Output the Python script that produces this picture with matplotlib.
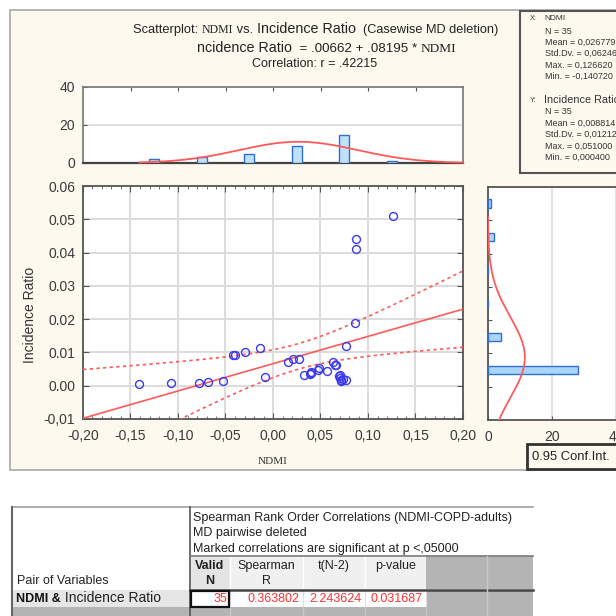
import numpy as np
import matplotlib
matplotlib.use("Agg")
import matplotlib.pyplot as plt
from matplotlib.patches import Rectangle

plt.rcParams['font.family'] = ['Liberation Sans', 'DejaVu Sans']

# ---------------- data ----------------
ndmi = [-0.1407, -0.1077, -0.0776, -0.0684, -0.0523, -0.0425, -0.0397, -0.0290, -0.0137, -0.0084,
        0.0155, 0.0210, 0.0278, 0.0322, 0.0385, 0.0395, 0.0400, 0.0477, 0.0484,
        0.0565, 0.0630, 0.0652, 0.0660, 0.0697, 0.0705, 0.0708, 0.0712, 0.0720, 0.0735,
        0.0768, 0.0764, 0.0866, 0.0875, 0.0877, 0.1266]
incidence = [0.0004, 0.0008, 0.0008, 0.0010, 0.0013, 0.0092, 0.0092, 0.0102, 0.0112, 0.0025,
             0.0070, 0.0081, 0.0081, 0.0033, 0.0035, 0.0040, 0.0037, 0.0047, 0.0052,
             0.0045, 0.0071, 0.0063, 0.0061, 0.0028, 0.0031, 0.0022, 0.0017, 0.0015, 0.0019,
             0.0017, 0.0118, 0.0187, 0.0441, 0.0410, 0.0510]

fit_intercept = 0.00662
fit_slope = 0.08195
corr_r = 0.42215
conf_level = 0.95
t_crit = 2.0345  # t(0.975, 33)

stat_names = ["N", "Mean", "Std.Dv.", "Max.", "Min."]
x_stats = [35, 0.026779, 0.062466, 0.126620, -0.140720]
y_stats = [35, 0.008814, 0.012126, 0.051000, 0.000400]

ndmi_bin_centers = [-0.125, -0.075, -0.025, 0.025, 0.075, 0.125]
ndmi_bin_counts = [2, 3, 5, 9, 15, 1]
ir_bin_centers = [0.005, 0.015, 0.025, 0.035, 0.045, 0.055]
ir_bin_counts = [28, 4, 0, 0, 2, 1]

x_ticks = [-0.20, -0.15, -0.10, -0.05, 0.00, 0.05, 0.10, 0.15, 0.20]
x_ticklabels = ["-0,20", "-0,15", "-0,10", "-0,05", "0,00", "0,05", "0,10", "0,15", "0,20"]
y_ticks = [-0.01, 0.00, 0.01, 0.02, 0.03, 0.04, 0.05, 0.06]
y_ticklabels = ["-0,01", "0.00", "0.01", "0.02", "0.03", "0.04", "0.05", "0.06"]

tbl_title = ["Spearman Rank Order Correlations (NDMI-COPD-adults)",
             "MD pairwise deleted",
             "Marked correlations are significant at p <,05000"]
tbl_cols = [("Valid", "N"), ("Spearman", "R"), ("t(N-2)", ""), ("p-value", "")]
tbl_values = ["35", "0.363802", "2.243624", "0.031687"]

# ---------------- figure ----------------
W, H = 616, 616
fig = plt.figure(figsize=(W / 100, H / 100), dpi=100)
fig.patch.set_facecolor('white')

bg = fig.add_axes([0, 0, 1, 1], zorder=0)
bg.set_xlim(0, W)
bg.set_ylim(H, 0)
bg.axis('off')

def ax_px(l, t, r, b, z=2):
    a = fig.add_axes([l / W, 1 - b / H, (r - l) / W, (b - t) / H], zorder=z)
    return a

CREAM = '#FDF9EF'
TXT = '#333333'
RED = '#FF5A5A'
BLUE = '#3A3AF0'
EDGEB = '#2F6FD6'

# cream panel
bg.add_patch(Rectangle((10, 10), 640, 460, facecolor=CREAM, edgecolor='#A8A8A8', lw=1.2))

# ---------- titles (mixed fonts) ----------
def seq_text(x, y, parts):
    prev = None
    for s, fam, size in parts:
        if prev is None:
            prev = bg.text(x, y, s, family=fam, fontsize=size, color='#222222', va='center', ha='left')
        else:
            prev = bg.annotate(s, xy=(1, 0), xycoords=prev, family=fam, fontsize=size,
                               color='#222222', va='bottom', ha='left')
    return prev

SANS = ['Liberation Sans']
SERIF = ['Liberation Serif']
seq_text(133, 30, [("Scatterplot: ", SANS, 9.3), ("NDMI", SERIF, 8.5), (" vs. ", SANS, 9.3),
                   ("Incidence Ratio", SANS, 10.3), ("  (Casewise MD deletion)", SANS, 9.2)])
seq_text(197, 48, [("ncidence Ratio", SANS, 10.3),
                   (f"  = {fit_intercept:.5f}".replace("0.", ".") + f" + {fit_slope:.5f}".replace("0.", ".") + " * ", SANS, 9.6),
                   ("NDMI", SERIF, 9.6)])
seq_text(252, 64, [(f"Correlation: r = {corr_r:.5f}".replace("0.", "."), SANS, 9.0)])

# ---------- stats box ----------
bg.add_patch(Rectangle((520, 11), 120, 162, facecolor=CREAM, edgecolor='#555555', lw=1.5))

def fmt(v):
    return f"{v:.6f}".replace('.', ',')

bg.text(530, 19, "X:", fontsize=5.2, color=TXT, va='center')
bg.text(544, 19, "NDMI", fontsize=6.0, color=TXT, va='center')
ys = [31, 42, 53, 65, 76]
for i, (nm, v) in enumerate(zip(stat_names, x_stats)):
    s = f"{nm} = {v}" if i == 0 else f"{nm} = {fmt(v)}"
    bg.text(545, ys[i], s, fontsize=6.5, color=TXT, va='center')
bg.text(530, 100, "Y:", fontsize=5.2, color=TXT, va='center')
bg.text(544, 100, "Incidence Ratio", fontsize=7.8, color=TXT, va='center')
ys = [111, 123, 134, 146, 157]
for i, (nm, v) in enumerate(zip(stat_names, y_stats)):
    s = f"{nm} = {v}" if i == 0 else f"{nm} = {fmt(v)}"
    bg.text(545, ys[i], s, fontsize=6.5, color=TXT, va='center')

# ---------- main scatter ----------
ax = ax_px(83, 186, 463, 419)
ax.set_facecolor('white')
ax.set_xlim(-0.2, 0.2)
ax.set_ylim(-0.01, 0.06)
ax.set_xticks(x_ticks)
ax.set_xticklabels(x_ticklabels)
ax.set_yticks(y_ticks)
ax.set_yticklabels(y_ticklabels)
ax.set_xticks(np.arange(-0.2, 0.2001, 0.01), minor=True)
ax.grid(True, which='major', color='#DCDCDC', lw=1.4)
ax.set_axisbelow(True)
ax.tick_params(which='both', direction='in', top=True, right=True, colors='#555555',
               labelcolor='#3A3A3A', labelsize=10)
ax.tick_params(which='major', length=4)
ax.tick_params(axis='x', which='major', pad=7.5)
ax.tick_params(axis='y', which='major', pad=5.5)
ax.tick_params(which='minor', length=2)
for s in ax.spines.values():
    s.set_color('#555555')
    s.set_linewidth(1.3)

xx = np.linspace(-0.2, 0.2, 200)
n = x_stats[0]
mx, sx = x_stats[1], x_stats[2]
sy = y_stats[2]
s_res = sy * np.sqrt(1 - corr_r ** 2) * np.sqrt((n - 1) / (n - 2))
sxx = (n - 1) * sx ** 2
yhat = fit_intercept + fit_slope * xx
half = t_crit * s_res * np.sqrt(1.0 / n + (xx - mx) ** 2 / sxx)
ax.plot(xx, yhat, color=RED, lw=1.2, zorder=3)
ax.plot(xx, yhat + half, color=RED, lw=1.2, ls=(0, (2, 2)), zorder=3)
ax.plot(xx, yhat - half, color=RED, lw=1.2, ls=(0, (2, 2)), zorder=3)
ax.plot(ndmi, incidence, 'o', ms=5.7, mfc='none', mec=BLUE, mew=1.0, zorder=4)

bg.text(30, 315, "Incidence Ratio", rotation=90, fontsize=10, color=TXT, va='center', ha='center')
bg.text(273, 461, "NDMI", family=SERIF, fontsize=8, color=TXT, va='center', ha='center')

# ---------- top histogram ----------
axt = ax_px(83, 87, 463, 163)
axt.set_facecolor('white')
axt.bar(ndmi_bin_centers, ndmi_bin_counts, width=0.0105, color='#BFE2FA', edgecolor=EDGEB, lw=1.0, zorder=3)
axt.set_xlim(-0.2, 0.2)
axt.set_ylim(0, 40)
axt.set_yticks([0, 20, 40])
axt.set_xticks(x_ticks[1:-1])
axt.tick_params(axis='x', direction='in', top=True, bottom=False, labelbottom=False, length=3, colors='#555555')
axt.tick_params(axis='y', direction='in', length=3, pad=5.5, colors='#555555', labelcolor='#3A3A3A', labelsize=10)
axt.grid(True, axis='y', color='#DCDCDC', lw=1.2)
axt.set_axisbelow(True)
for s in axt.spines.values():
    s.set_color('#777777')
    s.set_linewidth(1.2)
axt.spines['bottom'].set_color('#444444')
axt.spines['bottom'].set_linewidth(1.6)
bw = ndmi_bin_centers[1] - ndmi_bin_centers[0]
gx = np.linspace(x_stats[4], 0.2, 200)
gy = n * bw / (sx * np.sqrt(2 * np.pi)) * np.exp(-0.5 * ((gx - mx) / sx) ** 2)
axt.plot(gx, gy, color=RED, lw=1.3, zorder=4, clip_on=False)

# ---------- right histogram ----------
axr = ax_px(488, 187, 632, 420)
axr.set_facecolor('white')
axr.barh(ir_bin_centers, ir_bin_counts, height=0.0025, color='#A9D5F7', edgecolor=EDGEB, lw=1.0, zorder=3)
axr.set_ylim(-0.01, 0.06)
axr.set_xlim(0, (632 - 488) / 3.2)
axr.set_xticks([0, 20, 40])
axr.set_yticks(y_ticks[1:-1])
axr.tick_params(axis='y', direction='in', labelleft=False, length=3, colors='#555555')
axr.tick_params(axis='x', direction='in', length=3, pad=7.5, colors='#555555', labelcolor='#3A3A3A', labelsize=10)
axr.grid(True, axis='x', color='#DCDCDC', lw=1.2)
axr.set_axisbelow(True)
for s in axr.spines.values():
    s.set_color('#555555')
    s.set_linewidth(1.3)
my = y_stats[1]
bwy = ir_bin_centers[1] - ir_bin_centers[0]
gyy = np.linspace(-0.01, y_stats[3], 200)
gxx = n * bwy / (sy * np.sqrt(2 * np.pi)) * np.exp(-0.5 * ((gyy - my) / sy) ** 2)
axr.plot(gxx, gyy, color=RED, lw=1.3, zorder=4)

# conf int box
bg.add_patch(Rectangle((527, 444), 100, 25, facecolor=CREAM, edgecolor='#333333', lw=2.0))
bg.text(532, 457, f"{conf_level:.2f} Conf.Int.", fontsize=9.4, color='#222222', va='center', ha='left')

# ---------- table ----------
GRID = '#A0A0A0'
col_x = [190, 230, 303, 365, 426, 487, 533]
bg.add_patch(Rectangle((12, 507), 178, 83, facecolor='white', edgecolor='none'))
bg.add_patch(Rectangle((190, 507), 343, 49, facecolor='white', edgecolor='none'))
for i in range(4):
    bg.add_patch(Rectangle((col_x[i], 556), col_x[i + 1] - col_x[i], 33,
                           facecolor='#E4E4E4' if i == 0 else '#F0F0F0', edgecolor='white', lw=1))
bg.add_patch(Rectangle((426, 556), 107, 33, facecolor='#B4B4B4', edgecolor='none'))
bg.add_patch(Rectangle((426, 590), 107, 17, facecolor='#B4B4B4', edgecolor='none'))
bg.add_patch(Rectangle((12, 590), 178, 17, facecolor='#E6E6E6', edgecolor='none'))
for i in range(1, 4):
    bg.add_patch(Rectangle((col_x[i], 590), col_x[i + 1] - col_x[i], 17, facecolor='white', edgecolor='#E0E0E0', lw=0.8))
bg.add_patch(Rectangle((12, 607), 521, 12, facecolor='#B4B4B4', edgecolor='none'))
bg.plot([12, 533], [507, 507], color=GRID, lw=1.2)
bg.plot([12, 12], [507, 616], color='#666666', lw=1.5)
bg.plot([190, 190], [507, 616], color='#555555', lw=1.2)
bg.plot([190, 533], [556, 556], color='#7A7A7A', lw=1.2)
bg.plot([190, 533], [589.5, 589.5], color='#444444', lw=1.8)
bg.plot([487, 487], [556, 616], color='#C8C8C8', lw=1)
for xv in col_x[1:5]:
    bg.plot([xv, xv], [607, 616], color='#C8C8C8', lw=1)
bg.add_patch(Rectangle((191, 590.5), 38, 16, facecolor='white', edgecolor='#111111', lw=1.6, zorder=3))

for i, line in enumerate(tbl_title):
    bg.text(193, 518 + 15.3 * i, line, fontsize=9, color='#222222', va='center', ha='left')
centers = [(col_x[i] + col_x[i + 1]) / 2 for i in range(4)]
for i, (a, b) in enumerate(tbl_cols):
    w = 'bold' if i == 0 else 'normal'
    bg.text(centers[i], 566, a, fontsize=9, color='#222222', va='center', ha='center', weight=w)
    if b:
        bg.text(centers[i], 581, b, fontsize=9, color='#222222', va='center', ha='center', weight=w)
bg.text(17, 581, "Pair of Variables", fontsize=9, color='#222222', va='center', ha='left')
t0 = bg.text(16, 599, "NDMI &", fontsize=9, color='#111111', va='center', ha='left', weight='bold')
bg.annotate(" Incidence Ratio", xy=(1, 0), xycoords=t0, fontsize=10, color='#222222', va='bottom', ha='left')
for i, v in enumerate(tbl_values):
    bg.text(col_x[i + 1] - 3, 599, v, fontsize=9, color='#FF3030', va='center', ha='right', zorder=4)

fig.savefig("out.png", dpi=100, facecolor='white')
